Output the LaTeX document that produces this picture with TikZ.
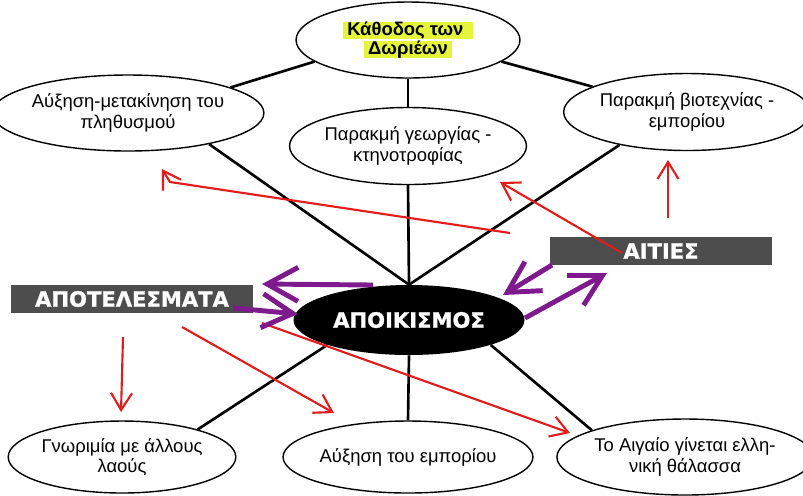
\documentclass[tikz,border=0pt]{standalone}
\usepackage{fontspec}
\setmainfont{Liberation Sans}
\newfontfamily\heavyfont{DejaVu Sans}[BoldFeatures={FakeBold=1.2}]
\usetikzlibrary{shapes.geometric,arrows.meta}

\definecolor{barGray}{HTML}{4D4D4D}
\definecolor{arrowRed}{HTML}{E31B1B}
\definecolor{arrowPurple}{HTML}{7E1A8E}
\definecolor{markYellow}{HTML}{E4F53A}

\newcommand{\yellowmark}[1]{{\fboxsep=0pt\colorbox{markYellow}{\hspace{2.5pt}\rule[-1.7pt]{0pt}{8.5pt}#1\hspace{2.5pt}}}}

\tikzset{
  bubble/.style={ellipse, draw, line width=0.8pt, fill=white, align=center,
    inner sep=0pt, font=\fontsize{10.5}{11.5}\selectfont},
  banner/.style={fill=barGray, text=white, inner sep=0pt,
    font=\heavyfont\bfseries\fontsize{12}{14}\selectfont},
  link/.style={line width=1.5pt},
  cause/.style={draw=arrowRed, line width=1.2pt,
    -{Straight Barb[length=0.34cm,width=0.42cm]}},
  swap/.style={draw=arrowPurple, line width=2.8pt,
    -{Straight Barb[length=0.62cm,width=0.68cm]}},
}

\begin{document}
\begin{tikzpicture}[x=0.02cm, y=-0.02cm]
  \useasboundingbox (0,0) rectangle (803,495);

  % ellipses
  \node[bubble, minimum width=4.48cm, minimum height=1.52cm,
    font=\bfseries\fontsize{10.5}{11}\selectfont] (dorians) at (408,40)
    {\yellowmark{Κάθοδος των\hspace{3pt}}\\\yellowmark{Δωριέων}};
  \node[bubble, minimum width=4.76cm, minimum height=1.52cm] (pop) at (128,113)
    {Αύξηση-μετακίνηση του\\πληθυσμού};
  \node[bubble, minimum width=4.74cm, minimum height=1.54cm] (agri) at (408,146)
    {Παρακμή γεωργίας -\\κτηνοτροφίας};
  \node[bubble, minimum width=4.58cm, minimum height=1.54cm] (craft) at (687,112)
    {Παρακμή βιοτεχνίας -\\εμπορίου};
  \node[ellipse, fill=black, text=white, minimum width=4.56cm, minimum height=1.4cm,
    font=\heavyfont\bfseries\fontsize{12}{14}\selectfont] (colon) at (409,320)
    {ΑΠΟΙΚΙΣΜΟΣ};
  \node[bubble, minimum width=4.48cm, minimum height=1.44cm] (know) at (122,457)
    {Γνωριμία με άλλους\\λαούς};
  \node[bubble, minimum width=4.48cm, minimum height=1.44cm] (trade) at (408,457)
    {Αύξηση του εμπορίου};
  \node[bubble, minimum width=4.68cm, minimum height=1.52cm] (aegean) at (685,457)
    {Το Αιγαίο γίνεται ελλη-\\νική θάλασσα};

  % bars
  \node[banner, minimum width=4.46cm, minimum height=0.56cm] (causes) at (661,251) {ΑΙΤΙΕΣ};
  \node[banner, minimum width=4.86cm, minimum height=0.56cm] (results) at (132,299) {ΑΠΟΤΕΛΕΣΜΑΤΑ};

  % black links
  \draw[link] (dorians.193) -- (pop.14);
  \draw[link] (dorians.south) -- (agri.north);
  \draw[link] (dorians.-13) -- (craft.165);
  \draw[link] (pop.-21) -- (colon.north);
  \draw[link] (agri.south) -- (colon.north);
  \draw[link] (craft.206) -- (colon.north);
  \draw[link] (colon.197) -- (know.20);
  \draw[link] (colon.south) -- (trade.north);
  \draw[link] (colon.-17) -- (aegean.164);

  % free ends of the arrows
  \coordinate (popTail) at (510,233);
  \coordinate (popBend) at (170,182);
  \coordinate (popTip) at (162,169);
  \coordinate (agriTail) at (622,253);
  \coordinate (agriTip) at (500,182);
  \coordinate (craftTail) at (668,218);
  \coordinate (craftTip) at (668,160);
  \coordinate (knowTail) at (123,337);
  \coordinate (knowTip) at (121,412);
  \coordinate (tradeTail) at (182,327);
  \coordinate (tradeTip) at (334,413);
  \coordinate (aegeanTail) at (262,323);
  \coordinate (aegeanTip) at (570,433);
  \coordinate (outTail) at (373,285);
  \coordinate (outTip) at (262,284);
  \coordinate (inTail) at (233,308);
  \coordinate (inTip) at (298,314);
  \coordinate (backTail) at (552,265);
  \coordinate (backTip) at (503,295);
  \coordinate (upTail) at (525,318);
  \coordinate (upTip) at (607,273);

  % red arrows
  \draw[cause] (popTail) -- (popBend) -- (popTip);
  \draw[cause] (agriTail) -- (agriTip);
  \draw[cause] (craftTail) -- (craftTip);
  \draw[cause] (knowTail) -- (knowTip);
  \draw[cause] (tradeTail) -- (tradeTip);
  \draw[cause] (aegeanTail) -- (aegeanTip);

  % purple arrows
  \draw[swap] (outTail) -- (outTip);
  \draw[swap] (inTail) -- (inTip);
  \draw[swap] (backTail) -- (backTip);
  \draw[swap] (upTail) -- (upTip);
\end{tikzpicture}
\end{document}
